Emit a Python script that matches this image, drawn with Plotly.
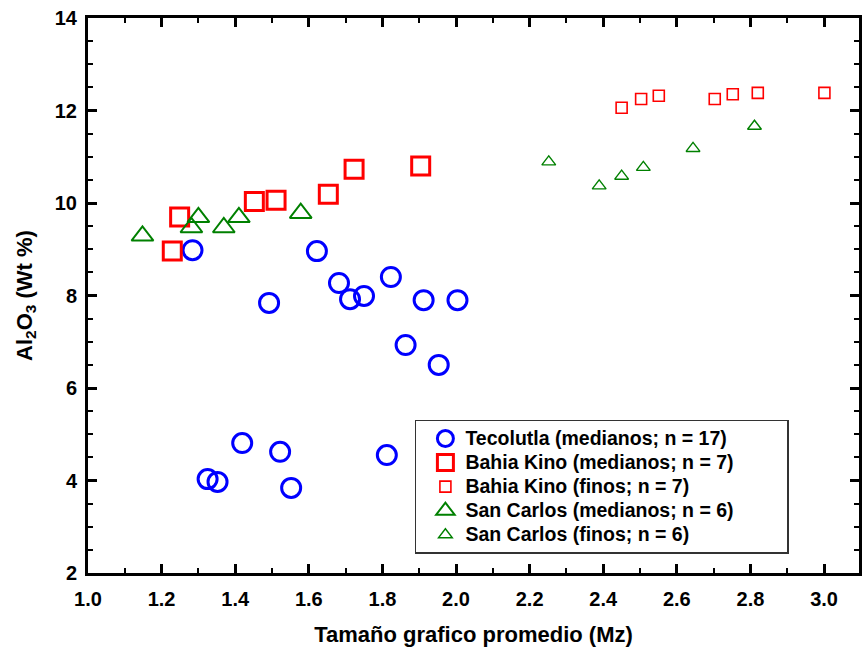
import plotly.graph_objects as go

# Tecolutla (medianos; n = 17)
tec_x = [1.284, 1.492, 1.622, 1.682, 1.712, 1.750, 1.823, 1.912, 2.004, 1.863, 1.953,
         1.419, 1.522, 1.325, 1.352, 1.552, 1.812]
tec_y = [8.98, 7.84, 8.96, 8.27, 7.92, 7.99, 8.40, 7.90, 7.90, 6.93, 6.50,
         4.81, 4.62, 4.03, 3.97, 3.84, 4.55]

# Bahia Kino (medianos; n = 7)
bkm_x = [1.229, 1.249, 1.452, 1.511, 1.653, 1.723, 1.904]
bkm_y = [8.96, 9.70, 10.03, 10.06, 10.19, 10.73, 10.80]

# Bahia Kino (finos; n = 7)
bkf_x = [2.450, 2.503, 2.551, 2.703, 2.752, 2.820, 3.001]
bkf_y = [12.06, 12.25, 12.32, 12.25, 12.35, 12.38, 12.38]

# San Carlos (medianos; n = 6)
scm_x = [1.148, 1.281, 1.300, 1.369, 1.410, 1.578]
scm_y = [9.29, 9.47, 9.69, 9.47, 9.69, 9.78]

# San Carlos (finos; n = 6)
scf_x = [2.252, 2.389, 2.450, 2.509, 2.644, 2.811]
scf_y = [10.89, 10.37, 10.58, 10.77, 11.18, 11.66]

names = ["Tecolutla (medianos; n = 17)", "Bahia Kino (medianos; n = 7)",
         "Bahia Kino (finos; n = 7)", "San Carlos (medianos; n = 6)",
         "San Carlos (finos; n = 6)"]


def leg(label, pad=0):
    return "<span style='font-size:19.5px'>" + label + "&nbsp;" * pad + "</span>"


BLUE, RED, GREEN = "#0000FF", "#FF0000", "#008000"

fig = go.Figure()
fig.add_trace(go.Scatter(x=tec_x, y=tec_y, mode="markers", name=leg(names[0]),
                         marker=dict(symbol="circle-open", size=19, color=BLUE,
                                     line=dict(width=3, color=BLUE))))
fig.add_trace(go.Scatter(x=bkm_x, y=bkm_y, mode="markers", name=leg(names[1]),
                         marker=dict(symbol="square-open", size=18, color=RED,
                                     line=dict(width=3, color=RED))))
fig.add_trace(go.Scatter(x=bkf_x, y=bkf_y, mode="markers", name=leg(names[2]),
                         marker=dict(symbol="square-open", size=11, color=RED,
                                     line=dict(width=1.6, color=RED))))
fig.add_trace(go.Scatter(x=scm_x, y=scm_y, mode="markers", name=leg(names[3], pad=9),
                         marker=dict(symbol="triangle-up-open", size=19, color=GREEN,
                                     line=dict(width=2, color=GREEN))))
fig.add_trace(go.Scatter(x=scf_x, y=scf_y, mode="markers", name=leg(names[4]),
                         marker=dict(symbol="triangle-up-open", size=12, color=GREEN,
                                     line=dict(width=1.4, color=GREEN))))

FONT = "Liberation Sans, Arial, sans-serif"
tickfont = dict(family=FONT, size=20, color="black", weight="bold")

axis_common = dict(
    showgrid=False, zeroline=False, showline=True, linecolor="black", linewidth=3,
    mirror="ticks", ticks="inside", ticklen=9, tickwidth=2.5, tickcolor="black",
    tickfont=tickfont,
)

fig.update_xaxes(
    range=[1.0, 3.095], tick0=1.0, dtick=0.2, tickformat=".1f",
    minor=dict(dtick=0.1, ticks="inside", ticklen=5, tickwidth=2, tickcolor="black"),
    ticklabelstandoff=6,
    title=dict(text="Tamaño grafico promedio (Mz)", standoff=18,
               font=dict(family=FONT, size=22, color="black", weight="bold")),
    **axis_common,
)
fig.update_yaxes(
    range=[2, 14], tick0=2, dtick=2,
    minor=dict(dtick=0.5, ticks="inside", ticklen=5, tickwidth=2, tickcolor="black"),
    ticklabelstandoff=4,
    title=dict(text="Al<sub>2</sub>O<sub>3</sub> (Wt %)", standoff=17,
               font=dict(family=FONT, size=22, color="black", weight="bold")),
    **axis_common,
)

fig.update_layout(
    width=862, height=651,
    margin=dict(l=88, r=0, t=18, b=78),
    paper_bgcolor="white", plot_bgcolor="white",
    showlegend=True,
    legend=dict(
        x=0.424, y=0.2757, xanchor="left", yanchor="top",
        bgcolor="white", bordercolor="#333333", borderwidth=1.5,
        font=dict(family=FONT, size=16.2, color="black", weight="bold"),
        itemsizing="trace", indentation=9,
    ),
)

fig.write_html("out.html")
